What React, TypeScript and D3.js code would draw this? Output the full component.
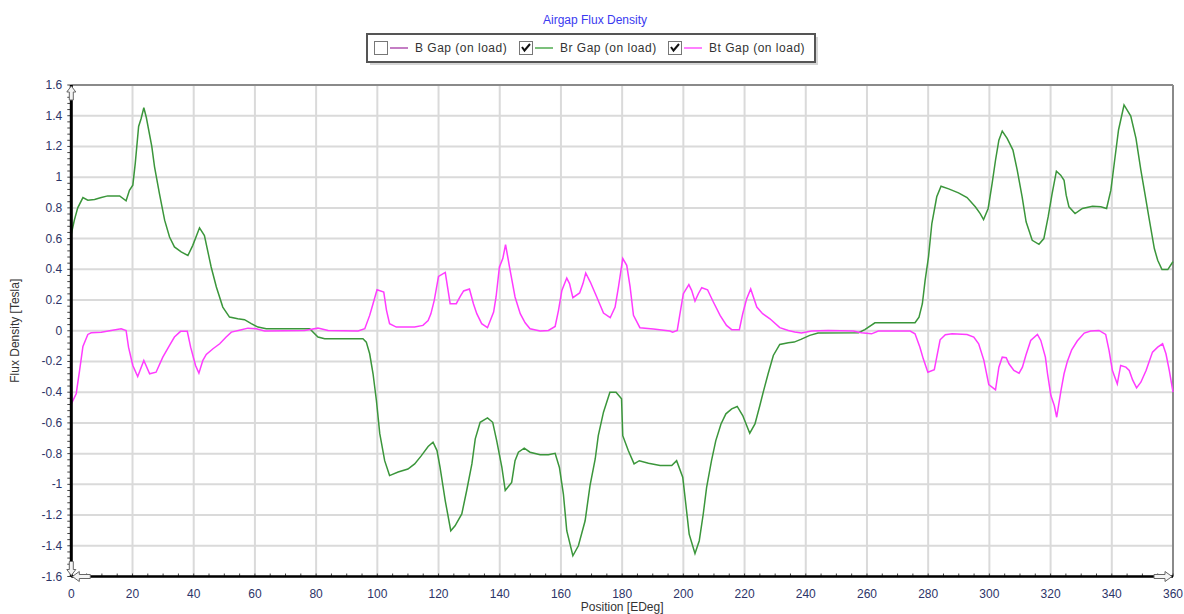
import React from 'react'
import * as d3 from 'd3'

// Position [EDeg] vs flux density [T]
const brGap: [number, number][] = [
  [0, 0.63], [1, 0.72], [2.1, 0.8], [3.8, 0.867], [5.4, 0.85], [7.6, 0.854], [9.8, 0.867], [11.9, 0.878],
  [15.8, 0.878], [17.9, 0.846], [19, 0.915], [20.1, 0.948], [20.9, 1.09], [22, 1.33], [22.8, 1.38],
  [23.7, 1.452], [24.5, 1.39], [26.3, 1.2], [27.2, 1.067], [28.8, 0.893], [30.5, 0.72], [32.1, 0.61],
  [33.7, 0.546], [35.9, 0.513], [38.1, 0.49], [39.7, 0.556], [41.9, 0.67], [43.5, 0.62], [45.7, 0.415],
  [47.4, 0.285], [49.5, 0.154], [51.7, 0.089], [54.4, 0.078], [56.6, 0.072], [58.8, 0.046], [61, 0.024],
  [63.7, 0.013], [77.9, 0.013], [80.6, -0.041], [82.8, -0.052], [95.3, -0.052], [96.4, -0.074],
  [97.5, -0.15], [98.6, -0.28], [99.7, -0.454], [100.8, -0.67], [102.4, -0.846], [104, -0.943],
  [106.8, -0.92], [110, -0.9], [112.2, -0.867], [114.4, -0.813], [116.6, -0.754], [118.2, -0.726],
  [119.5, -0.78], [120.5, -0.89], [122.2, -1.107], [124, -1.302], [125.4, -1.27], [127.6, -1.193],
  [129.2, -1.04], [130.9, -0.867], [132, -0.704], [133.6, -0.596], [136, -0.567], [137.7, -0.596],
  [139, -0.715], [140.7, -0.89], [141.8, -1.04], [143.9, -0.987], [145, -0.846], [146.1, -0.791],
  [148, -0.765], [149.9, -0.791], [153.2, -0.807], [155.9, -0.807], [158.1, -0.798], [159.5, -0.89],
  [160.8, -1.063], [161.9, -1.302], [163.9, -1.465], [165.7, -1.4], [167.9, -1.237], [169.5, -1.009],
  [171.2, -0.835], [172.2, -0.683], [173.9, -0.53], [176, -0.4], [178, -0.4], [179.8, -0.443],
  [180.2, -0.683], [182, -0.78], [183.9, -0.867], [185.6, -0.846], [188.6, -0.863], [192.4, -0.878],
  [196.2, -0.878], [197.8, -0.846], [199.8, -0.954], [200.8, -1.128], [201.9, -1.324], [203.8, -1.45],
  [205.2, -1.367], [206.5, -1.193], [207.6, -1.02], [209.2, -0.846], [210.6, -0.715], [212.3, -0.607],
  [213.9, -0.541], [215.8, -0.509], [217.6, -0.493], [219.4, -0.552], [221.7, -0.667], [223.4, -0.607],
  [225, -0.487], [226.1, -0.4], [227.7, -0.28], [229.4, -0.161], [231.5, -0.089], [234.3, -0.078],
  [236.2, -0.074], [238.4, -0.056], [241.3, -0.03], [244, -0.015], [257.2, -0.013], [259.3, 0.007],
  [262.6, 0.052], [275.7, 0.052], [277, 0.089], [278.1, 0.176], [279, 0.328], [280.1, 0.48],
  [281.2, 0.698], [282.8, 0.872], [284.2, 0.941], [286.7, 0.924], [289.9, 0.898], [292.7, 0.867],
  [295.4, 0.807], [297, 0.763], [298.1, 0.724], [299.6, 0.796], [300.9, 0.959], [302, 1.11],
  [303.1, 1.241], [304.2, 1.3], [305.8, 1.252], [307.7, 1.176], [309.1, 1.046], [310.7, 0.872],
  [312, 0.709], [314, 0.589], [316.2, 0.563], [317.8, 0.6], [319.2, 0.741], [320.5, 0.893],
  [321.9, 1.039], [323.3, 1.013], [324.4, 0.98], [325.1, 0.883], [326, 0.807], [328, 0.763],
  [330.4, 0.796], [333.7, 0.811], [336.4, 0.807], [338.3, 0.796], [339.7, 0.915], [340.8, 1.089],
  [342.2, 1.307], [344, 1.47], [346.2, 1.398], [347.9, 1.252], [349.5, 1.046], [350.9, 0.883],
  [352.2, 0.73], [353.9, 0.535], [355, 0.459], [356.4, 0.398], [358.3, 0.398], [359.7, 0.441], [360, 0.45],
]

const btGap: [number, number][] = [
  [0, -0.476], [1.6, -0.41], [2.7, -0.259], [3.8, -0.102], [5.4, -0.024], [6.5, -0.013], [9.8, -0.009],
  [13, 0.002], [16.3, 0.013], [17.9, 0.002], [18.7, -0.107], [20.1, -0.226], [21.7, -0.298],
  [23.7, -0.193], [25.6, -0.28], [27.7, -0.27], [29.9, -0.172], [32.1, -0.096], [33.7, -0.041],
  [35.7, -0.004], [37.9, -0.004], [39, -0.107], [40.6, -0.226], [41.7, -0.276], [43, -0.193],
  [44.1, -0.154], [46.3, -0.117], [48.5, -0.085], [50.6, -0.041], [52.3, -0.009], [55.6, 0.007],
  [57.7, 0.017], [60.4, 0.013], [63.2, -0.002], [76.2, 0.002], [80.6, 0.017], [83.9, 0.002],
  [93.7, -0.002], [95.9, 0.013], [97.5, 0.1], [98.6, 0.176], [99.9, 0.267], [102.1, 0.252],
  [103, 0.133], [104, 0.046], [106.2, 0.024], [112.2, 0.024], [114.9, 0.035], [116.6, 0.067],
  [117.5, 0.11], [118.6, 0.198], [120, 0.354], [122.2, 0.38], [123.8, 0.176], [125.8, 0.176],
  [127.1, 0.224], [128.2, 0.259], [130.1, 0.272], [131.4, 0.176], [132.5, 0.111], [134.1, 0.046],
  [136, 0.02], [138, 0.122], [138.8, 0.22], [139.9, 0.415], [141, 0.47], [141.9, 0.561], [143.2, 0.415],
  [145, 0.22], [146.7, 0.111], [148.3, 0.052], [149.9, 0.013], [153.2, -0.002], [155.9, 0.002],
  [158.1, 0.028], [159.2, 0.133], [160.3, 0.263], [161.9, 0.343], [162.8, 0.307], [163.9, 0.215],
  [166.1, 0.246], [167.2, 0.307], [168.1, 0.376], [169.6, 0.317], [171.7, 0.22], [173.9, 0.115],
  [176.1, 0.085], [177.7, 0.154], [178.8, 0.285], [180.2, 0.47], [181.5, 0.426], [182.6, 0.285],
  [183.7, 0.1], [185.8, 0.02], [190.2, 0.011], [195.6, -0.002], [196.5, -0.009], [198, 0.002],
  [198.9, 0.111], [200, 0.241], [201.8, 0.3], [202.7, 0.263], [203.8, 0.193], [204.9, 0.241],
  [206, 0.28], [207.9, 0.267], [209.8, 0.187], [212, 0.1], [214.1, 0.035], [215.8, 0.007],
  [218.3, 0.007], [219.4, 0.111], [220.7, 0.209], [222, 0.272], [224, 0.154], [225.9, 0.111],
  [228.3, 0.078], [231.5, 0.02], [234.3, 0.002], [236.4, -0.008], [238.6, -0.015], [241.9, -0.002],
  [247.3, 0.002], [255.5, -0.002], [258.2, -0.013], [261.5, -0.02], [263.7, -0.002], [274.1, -0.002],
  [275.7, -0.02], [277.3, -0.107], [278.4, -0.183], [279.9, -0.27], [282, -0.254], [282.8, -0.172],
  [283.9, -0.059], [285.6, -0.026], [287.8, -0.02], [292.7, -0.024], [294.9, -0.041], [296.5, -0.085],
  [298.2, -0.193], [299.8, -0.35], [302, -0.385], [303.1, -0.237], [304.2, -0.172], [305.5, -0.176],
  [306.4, -0.215], [308, -0.259], [309.7, -0.276], [310.8, -0.237], [311.9, -0.161], [313.5, -0.063],
  [315.7, -0.024], [316.8, -0.063], [318.3, -0.172], [319, -0.28], [320.1, -0.422], [321.2, -0.487],
  [322, -0.563], [323.4, -0.389], [324.4, -0.28], [325.5, -0.198], [326.9, -0.124], [328.7, -0.067],
  [331, -0.015], [333.1, -0.002], [335.8, 0.002], [338, -0.024], [339.1, -0.128], [340.2, -0.259],
  [341.8, -0.346], [342.9, -0.226], [344.6, -0.237], [345.7, -0.259], [346.8, -0.32], [348.1, -0.372],
  [349.5, -0.335], [351.2, -0.259], [353.3, -0.139], [355, -0.107], [356.6, -0.085], [357.7, -0.15],
  [358.8, -0.259], [360, -0.4],
]

const xTicks = d3.range(0, 361, 20)
const yTicks = d3.range(-8, 9).map(i => +(i * 0.2).toFixed(1))
const xMinor = d3.range(0, 361, 5)
const yMinor = d3.range(-40, 41).map(i => i * 0.04)

const legendItems = [
  { label: 'B Gap (on load)', checked: false, color: '#c47ec4' },
  { label: 'Br Gap (on load)', checked: true, color: '#7cc07c' },
  { label: 'Bt Gap (on load)', checked: true, color: '#ff80ff' },
]

const W = 1184
const H = 614
const left = 71.3
const right = 1173
const top = 85
const bottom = 576.5
const font = 'Arial, "Liberation Sans", sans-serif'
const tickColor = '#2d3468'

const upArrow = (cx: number, ty: number) =>
  `M${cx},${ty} L${cx + 4.5},${ty + 6} L${cx + 2},${ty + 6} L${cx + 2},${ty + 14} L${cx - 2},${ty + 14} L${cx - 2},${ty + 6} L${cx - 4.5},${ty + 6} Z`
const downArrow = (cx: number, by: number) =>
  `M${cx},${by} L${cx + 4.5},${by - 6} L${cx + 2},${by - 6} L${cx + 2},${by - 14} L${cx - 2},${by - 14} L${cx - 2},${by - 6} L${cx - 4.5},${by - 6} Z`
const rightArrow = (rx: number, cy: number) =>
  `M${rx},${cy} L${rx - 7},${cy - 5} L${rx - 7},${cy - 2} L${rx - 18},${cy - 2} L${rx - 18},${cy + 2} L${rx - 7},${cy + 2} L${rx - 7},${cy + 5} Z`
const leftArrow = (lx: number, cy: number) =>
  `M${lx},${cy} L${lx + 7},${cy - 5} L${lx + 7},${cy - 2} L${lx + 18},${cy - 2} L${lx + 18},${cy + 2} L${lx + 7},${cy + 2} L${lx + 7},${cy + 5} Z`

export default function App() {
  const x = d3.scaleLinear().domain([0, 360]).range([left, right])
  const y = d3.scaleLinear().domain([-1.6, 1.6]).range([bottom, top])
  const line = d3.line<[number, number]>().x(d => x(d[0])).y(d => y(d[1]))

  // legend geometry
  const legX = 367
  const legY = 34
  const legW = 448
  const legH = 28
  const itemX = [374, 519, 668]

  return (
    <svg width={W} height={H} style={{ position: 'absolute', left: 0, top: 0, background: '#fff' }} fontFamily={font}>
      <rect width={W} height={H} fill="#fff" />

      <text x={595} y={24} textAnchor="middle" fontSize={12} fill="#3a3af0">Airgap Flux Density</text>

      {/* legend */}
      <rect x={legX + 3} y={legY + 3} width={legW} height={legH} fill="#bbb" opacity={0.6} />
      <rect x={legX} y={legY} width={legW} height={legH} fill="#fff" stroke="#555" strokeWidth={2} />
      {legendItems.map((it, i) => {
        const bx = itemX[i]
        const by = legY + 7
        return (
          <g key={it.label}>
            <rect x={bx + 0.5} y={by + 0.5} width={13} height={13} fill="#fff" stroke="#777" strokeWidth={1} />
            {it.checked && (
              <path d={`M${bx + 3},${by + 6} L${bx + 5.5},${by + 9.5} L${bx + 11},${by + 3}`} fill="none" stroke="#111" strokeWidth={2} />
            )}
            <line x1={bx + 16} x2={bx + 34} y1={by + 7} y2={by + 7} stroke={it.color} strokeWidth={2} />
            <text x={bx + 41} y={by + 11} fontSize={12} fill="#333" letterSpacing={0.5}>{it.label}</text>
          </g>
        )
      })}

      {/* grid */}
      <g stroke="#dadada" strokeWidth={2}>
        {xTicks.map(t => <line key={'gx' + t} x1={x(t)} x2={x(t)} y1={top} y2={bottom} />)}
        {yTicks.map(t => <line key={'gy' + t} x1={left} x2={right} y1={y(t)} y2={y(t)} />)}
      </g>

      {/* frame */}
      <line x1={left} x2={right} y1={top} y2={top} stroke="#8a8a8a" strokeWidth={2} />
      <line x1={right} x2={right} y1={top} y2={bottom} stroke="#8a8a8a" strokeWidth={2} />

      {/* series */}
      <path d={line(brGap) || ''} fill="none" stroke="#3b963b" strokeWidth={1.5} />
      <path d={line(btGap) || ''} fill="none" stroke="#ff3cff" strokeWidth={1.5} />

      {/* axes */}
      <g stroke="#444" strokeWidth={1}>
        {yMinor.map(t => <line key={'my' + t} x1={left - 4} x2={left} y1={y(t)} y2={y(t)} />)}
        {xMinor.map(t => <line key={'mx' + t} x1={x(t)} x2={x(t)} y1={bottom - 3} y2={bottom} />)}
      </g>
      <line x1={left} x2={left} y1={top} y2={bottom} stroke="#000" strokeWidth={3} />
      <line x1={left} x2={right} y1={bottom} y2={bottom} stroke="#000" strokeWidth={2.5} />
      <g fill="#f4f4f4" stroke="#666" strokeWidth={1}>
        <path d={upArrow(left, top + 1)} />
        <path d={downArrow(left, bottom - 1)} />
        <path d={leftArrow(left + 1, bottom)} />
        <path d={rightArrow(right - 1, bottom)} />
      </g>

      {/* tick labels */}
      <g fontSize={12} fill={tickColor}>
        {yTicks.map(t => (
          <text key={'ty' + t} x={left - 9} y={y(t) + 4} textAnchor="end">{String(t)}</text>
        ))}
        {xTicks.map(t => (
          <text key={'tx' + t} x={x(t)} y={bottom + 21} textAnchor="middle">{String(t)}</text>
        ))}
      </g>

      <text x={(left + right) / 2} y={611} textAnchor="middle" fontSize={12} fill="#333">Position [EDeg]</text>
      <text transform={`translate(19,${(top + bottom) / 2}) rotate(-90)`} textAnchor="middle" fontSize={12} fill="#333">Flux Density [Tesla]</text>
    </svg>
  )
}
